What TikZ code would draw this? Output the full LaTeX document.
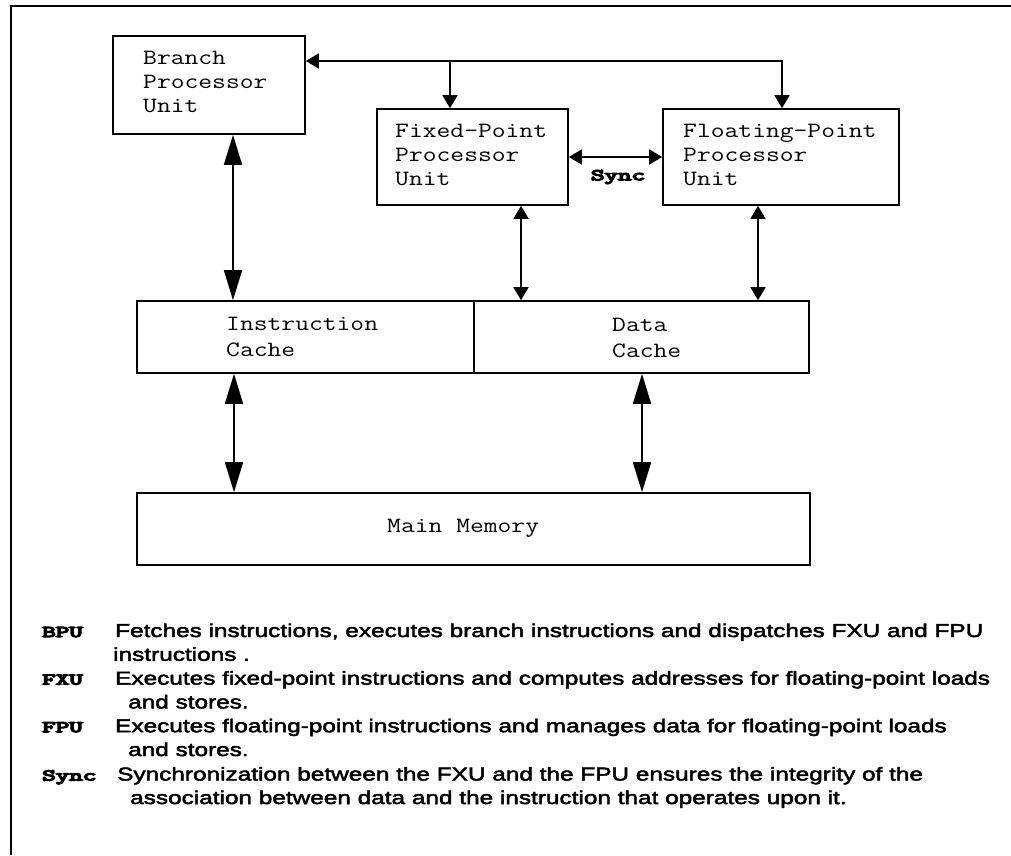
\documentclass[tikz,border=0pt]{standalone}
\usepackage{fontspec}
\usepackage{graphicx}
\usetikzlibrary{arrows.meta}
\newfontfamily\boxfont[FakeStretch=1.23]{Latin Modern Mono}
\newfontfamily\tagfont[FakeBold=7]{Latin Modern Mono}
\newfontfamily\descfont[FakeStretch=1.31, FakeBold=2.5]{Liberation Sans}
% wide, heavy typewriter labels
\newcommand{\tagword}[1]{\scalebox{1.6}[1]{\tagfont #1}}

\tikzset{
  unitbox/.style={draw, line width=1.6pt, rectangle, inner sep=0pt},
  boxtext/.style={inner sep=0pt, align=left, anchor=west,
    font=\fontsize{21.8}{24}\selectfont\boxfont},
  cachetext/.style={boxtext, font=\fontsize{21.8}{26}\selectfont\boxfont},
  tagtext/.style={inner sep=0pt, anchor=base west,
    font=\fontsize{16.4}{20}\selectfont},
  desctext/.style={inner sep=0pt, anchor=base west,
    font=\fontsize{18.6}{23.8}\selectfont\descfont},
  link/.style={line width=1.6pt},
  sboth/.style={link, {Triangle[length=13pt,width=15pt]}-{Triangle[length=13pt,width=15pt]}},
  send/.style={link, -{Triangle[length=13pt,width=15pt]}},
  bboth/.style={link, {Triangle[length=30pt,width=18pt]}-{Triangle[length=30pt,width=18pt]}},
  frame/.style={line width=1.8pt}
}

\begin{document}
\begin{tikzpicture}[x=1pt, y=-1pt]
  \useasboundingbox (0,0) rectangle (1011,855);

  % page frame (top and left rules)
  \draw[frame] (11,855) -- (11,6) -- (1011,6);

  % processor units
  \node[unitbox, minimum width=192, minimum height=98] (bpu) at (209,85) {};
  \node[unitbox, minimum width=191, minimum height=96] (fxu) at (472.5,157) {};
  \node[unitbox, minimum width=236, minimum height=96] (fpu) at (781,157) {};
  \node[boxtext] (bputxt) at (143,82) {Branch\\Processor\\Unit};
  \node[boxtext] (fxutxt) at (395,155) {Fixed-Point\\Processor\\Unit};
  \node[boxtext] (fputxt) at (683,155) {Floating-Point\\Processor\\Unit};

  % caches
  \node[unitbox, minimum width=337, minimum height=72] (ic) at (305.5,337) {};
  \node[unitbox, minimum width=335, minimum height=72] (dc) at (641.5,337) {};
  \node[cachetext] (ictxt) at (226,337) {Instruction\\Cache};
  \node[cachetext] (dctxt) at (612,338) {Data\\Cache};

  % main memory
  \node[unitbox, minimum width=673, minimum height=72] (mm) at (473.5,529) {};
  \node[boxtext] (mmtxt) at (387,528) {Main Memory};

  % dispatch bus from the branch unit
  \coordinate (busR) at (782,61);
  \coordinate (busJ) at (450,61);
  \draw[sboth] (bpu.east |- busR) -- (busR) -- (busR |- fpu.north);
  \draw[send] (busJ) -- (busJ |- fxu.north);

  % synchronisation between FXU and FPU
  \draw[sboth] (fxu.east) -- (fpu.west);
  \node[tagtext, anchor=center] (synclbl) at (618,177) {\tagword{Sync}};

  % unit <-> cache paths
  \coordinate (xb) at (233,0);
  \coordinate (xf) at (521,0);
  \coordinate (xp) at (758,0);
  \draw[bboth] (xb |- bpu.south) -- (xb |- ic.north);
  \draw[sboth] (xf |- fxu.south) -- (xf |- dc.north);
  \draw[sboth] (xp |- fpu.south) -- (xp |- dc.north);

  % cache <-> memory paths
  \coordinate (xi) at (234,0);
  \coordinate (xd) at (642,0);
  \draw[bboth] (xi |- ic.south) -- (xi |- mm.north);
  \draw[bboth] (xd |- dc.south) -- (xd |- mm.north);

  % legend
  \node[tagtext] (tbpu) at (42,637) {\tagword{BPU}};
  \node[desctext] (dbpu1) at (115,637) {Fetches instructions, executes branch instructions and dispatches FXU and FPU};
  \node[desctext] (dbpu2) at (113,660.8) {instructions .};
  \node[tagtext] (tfxu) at (42,684.6) {\tagword{FXU}};
  \node[desctext] (dfxu1) at (115,684.6) {Executes fixed-point instructions and computes addresses for floating-point loads};
  \node[desctext] (dfxu2) at (128,708.4) {and stores.};
  \node[tagtext] (tfpu) at (42,732.2) {\tagword{FPU}};
  \node[desctext] (dfpu1) at (115,732.2) {Executes floating-point instructions and manages data for floating-point loads};
  \node[desctext] (dfpu2) at (128,756) {and stores.};
  \node[tagtext] (tsync) at (42,780.5) {\tagword{Sync}};
  \node[desctext] (dsync1) at (117,780.5) {Synchronization between the FXU and the FPU ensures the integrity of the};
  \node[desctext] (dsync2) at (130,804) {association between data and the instruction that operates upon it.};
\end{tikzpicture}
\end{document}
